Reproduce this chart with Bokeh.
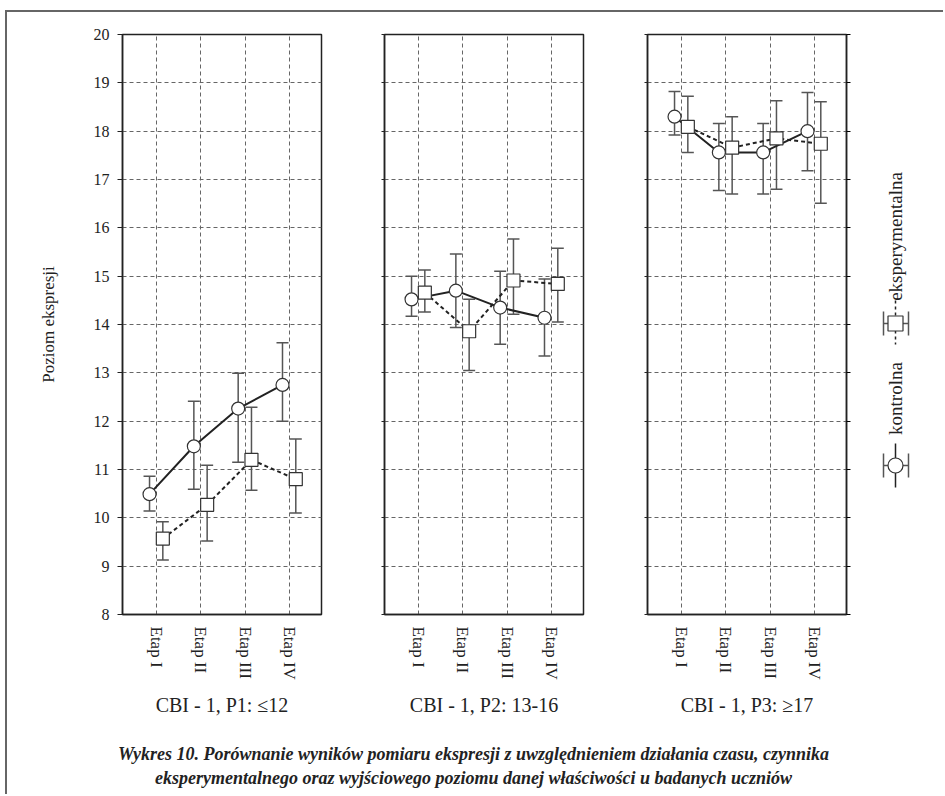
import math
from bokeh.plotting import figure
from bokeh.layouts import row, column
from bokeh.models import ColumnDataSource, Range1d, FixedTicker, Whisker, TeeHead, LinearAxis
from bokeh.core.properties import value
from bokeh.embed import file_html
from bokeh.resources import INLINE

# ---------------- data ----------------
stages = ["Etap I", "Etap II", "Etap III", "Etap IV"]
stage_pos = [1, 2, 3, 4]
groups = ["CBI - 1, P1: \u226412", "CBI - 1, P2: 13-16", "CBI - 1, P3: \u226517"]
y_ticks = [8, 9, 10, 11, 12, 13, 14, 15, 16, 17, 18, 19, 20]
series_names = ["kontrolna", "eksperymentalna"]

ctrl_mean_p1 = [10.49, 11.48, 12.26, 12.75]
ctrl_lo_p1 = [10.14, 10.59, 11.15, 12.00]
ctrl_hi_p1 = [10.86, 12.41, 12.99, 13.62]
exp_mean_p1 = [9.57, 10.27, 11.20, 10.80]
exp_lo_p1 = [9.13, 9.52, 10.57, 10.10]
exp_hi_p1 = [9.92, 11.09, 12.29, 11.63]

ctrl_mean_p2 = [14.52, 14.70, 14.35, 14.14]
ctrl_lo_p2 = [14.17, 13.94, 13.59, 13.35]
ctrl_hi_p2 = [15.00, 15.46, 15.10, 14.94]
exp_mean_p2 = [14.66, 13.86, 14.91, 14.84]
exp_lo_p2 = [14.26, 13.05, 14.21, 14.05]
exp_hi_p2 = [15.13, 14.52, 15.77, 15.58]

ctrl_mean_p3 = [18.30, 17.56, 17.56, 18.00]
ctrl_lo_p3 = [17.92, 16.77, 16.70, 17.18]
ctrl_hi_p3 = [18.82, 18.16, 18.16, 18.80]
exp_mean_p3 = [18.09, 17.66, 17.85, 17.74]
exp_lo_p3 = [17.56, 16.70, 16.80, 16.51]
exp_hi_p3 = [18.72, 18.30, 18.63, 18.61]

caption_lines = [
    "Wykres 10. Porównanie wyników pomiaru ekspresji z uwzględnieniem działania czasu, czynnika",
    "eksperymentalnego oraz wyjściowego poziomu danej właściwości u badanych uczniów",
]

panels = [
    (ctrl_mean_p1, ctrl_lo_p1, ctrl_hi_p1, exp_mean_p1, exp_lo_p1, exp_hi_p1),
    (ctrl_mean_p2, ctrl_lo_p2, ctrl_hi_p2, exp_mean_p2, exp_lo_p2, exp_hi_p2),
    (ctrl_mean_p3, ctrl_lo_p3, ctrl_hi_p3, exp_mean_p3, exp_lo_p3, exp_hi_p3),
]

# ---------------- style ----------------
FONT = "Liberation Serif"
INK = "#222222"
BAR = "#555555"
GRID = "#666666"
C_OFF = -0.16
E_OFF = 0.14


def make_panel(k, left_b, right_b):
    cm, cl, ch, em, el, eh = panels[k]
    p = figure(frame_width=199, frame_height=580,
               x_range=Range1d(0.23, 4.72), y_range=Range1d(8, 20),
               min_border_left=left_b, min_border_right=right_b,
               min_border_top=22, min_border_bottom=108,
               output_backend="svg", toolbar_location=None,
               background_fill_color="white", border_fill_color="white")
    p.outline_line_color = INK
    p.outline_line_width = 1.5

    p.xgrid.ticker = FixedTicker(ticks=stage_pos)
    p.ygrid.ticker = FixedTicker(ticks=y_ticks)
    for g in (p.xgrid, p.ygrid):
        g.grid_line_color = GRID
        g.grid_line_dash = "4 3"
        g.grid_line_width = 1

    # x axis
    xa = p.xaxis[0]
    xa.ticker = FixedTicker(ticks=stage_pos)
    xa.major_label_overrides = {pos: lab for pos, lab in zip(stage_pos, stages)}
    xa.major_label_orientation = "vertical"
    xa.major_label_text_font = FONT
    xa.major_label_text_font_size = "17px"
    xa.major_label_text_color = INK
    xa.major_label_standoff = 12
    xa.major_tick_out = 0
    xa.major_tick_in = 0
    xa.minor_tick_line_color = None
    xa.axis_line_color = INK
    xa.axis_line_width = 1.5
    xa.axis_label = groups[k]
    xa.axis_label_text_font = FONT
    xa.axis_label_text_font_style = "normal"
    xa.axis_label_text_font_size = "20px"
    xa.axis_label_text_color = INK
    xa.axis_label_standoff = 11

    # y axis
    ya = p.yaxis[0]
    ya.ticker = FixedTicker(ticks=y_ticks)
    ya.minor_tick_line_color = None
    ya.axis_line_color = INK
    ya.axis_line_width = 1.5
    ya.major_tick_line_color = INK
    ya.major_tick_in = 0
    if k == 0:
        ya.major_tick_out = 5
        ya.major_label_standoff = 8
        ya.major_label_text_font = FONT
        ya.major_label_text_font_size = "16px"
        ya.major_label_text_color = INK
        ya.axis_label = "Poziom ekspresji"
        ya.axis_label_text_font = FONT
        ya.axis_label_text_font_style = "normal"
        ya.axis_label_text_font_size = "17px"
        ya.axis_label_text_color = INK
        ya.axis_label_standoff = 33
    else:
        ya.major_tick_out = 3
        ya.major_label_overrides = {t: "" for t in y_ticks}
        ya.major_label_standoff = 0
    if k == 2:
        ra = LinearAxis(ticker=FixedTicker(ticks=y_ticks))
        ra.major_label_overrides = {t: "" for t in y_ticks}
        ra.major_label_standoff = 0
        ra.major_tick_out = 4
        ra.major_tick_in = 0
        ra.minor_tick_line_color = None
        ra.axis_line_color = INK
        ra.axis_line_width = 1.5
        p.add_layout(ra, "right")

    src_c = ColumnDataSource(dict(x=[s + C_OFF for s in stage_pos], y=cm, lo=cl, hi=ch))
    src_e = ColumnDataSource(dict(x=[s + E_OFF for s in stage_pos], y=em, lo=el, hi=eh))

    for src in (src_c, src_e):
        w = Whisker(source=src, base="x", lower="lo", upper="hi", dimension="height",
                    line_color=BAR, line_width=1.5, level="underlay",
                    upper_head=TeeHead(size=12, line_color=BAR, line_width=1.5),
                    lower_head=TeeHead(size=12, line_color=BAR, line_width=1.5))
        p.add_layout(w)

    p.line("x", "y", source=src_e, line_color=INK, line_width=2, line_dash="4 3")
    p.line("x", "y", source=src_c, line_color=INK, line_width=2)
    p.scatter("x", "y", source=src_e, marker="square", size=13,
              fill_color="white", line_color="#333333", line_width=1.2)
    p.scatter("x", "y", source=src_c, marker="circle", size=13,
              fill_color="white", line_color="#333333", line_width=1.2)
    return p


f1 = make_panel(0, 115, 31)
f2 = make_panel(1, 32, 32)
f3 = make_panel(2, 32, 9)

# ---------------- legend (rotated, as in the original) ----------------
LY = -22  # vertical correction of the legend placement
lg = figure(frame_width=80, frame_height=710, x_range=Range1d(0, 80), y_range=Range1d(710, 0),
            min_border=0, output_backend="svg", toolbar_location=None,
            x_axis_type=None, y_axis_type=None, outline_line_color=None,
            background_fill_color="white", border_fill_color="white")
lg.xgrid.visible = False
lg.ygrid.visible = False
# kontrolna symbol
cy = 453 + LY
lg.line([40, 40], [cy - 22, cy + 22], line_color=INK, line_width=1.5)
lg.segment(x0=[28, 28, 53], y0=[cy, cy - 12, cy - 12], x1=[53, 28, 53], y1=[cy, cy + 12, cy + 12],
           line_color=BAR, line_width=1.5)
lg.scatter([40], [cy], marker="circle", size=15, fill_color="white", line_color="#333333", line_width=1.2)
# eksperymentalna symbol
sy = 311 + LY
lg.line([40, 40], [sy - 23, sy + 21], line_color=INK, line_width=1.5, line_dash="3 3")
lg.segment(x0=[28, 28, 53], y0=[sy, sy - 12, sy - 12], x1=[53, 28, 53], y1=[sy, sy + 12, sy + 12],
           line_color=BAR, line_width=1.5)
lg.scatter([40], [sy], marker="square", size=15, fill_color="white", line_color="#333333", line_width=1.2)
lg.text(x=[40, 40], y=[386 + LY, 224 + LY], text=series_names, angle=math.pi / 2,
        text_align="center", text_baseline="middle", text_font=value(FONT),
        text_font_size="19px", text_color=INK)

# ---------------- caption ----------------
cap = figure(frame_width=936, frame_height=72, x_range=Range1d(0, 936), y_range=Range1d(72, 0),
             min_border=0, output_backend="svg", toolbar_location=None,
             x_axis_type=None, y_axis_type=None, outline_line_color=None,
             background_fill_color="white", border_fill_color="white")
cap.xgrid.visible = False
cap.ygrid.visible = False
cap.text(x=[466, 466], y=[31, 55], text=caption_lines, text_align="center", text_baseline="middle",
         text_font=value(FONT), text_font_style="bold italic", text_font_size="18px", text_color=INK)

layout = column(row(f1, f2, f3, lg), cap,
                styles={"border-left": "2px solid #666666", "border-top": "2px solid #666666",
                        "margin-left": "5px", "margin-top": "10px"})

open("out.html", "w").write(file_html(layout, INLINE))
